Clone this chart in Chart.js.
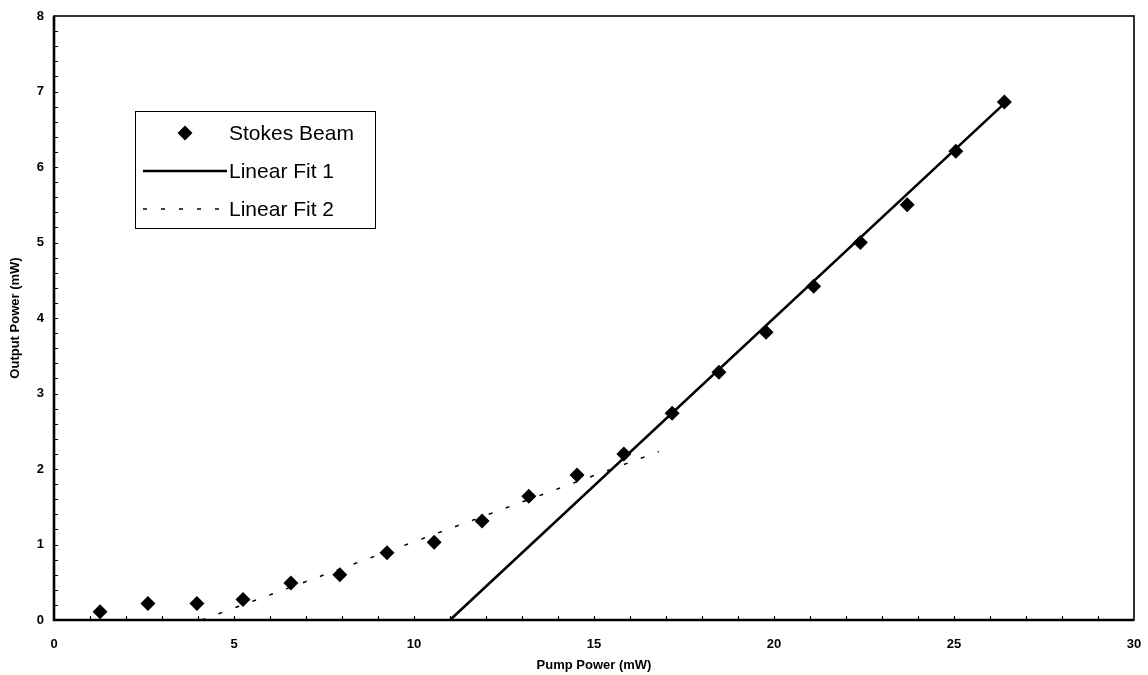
<!DOCTYPE html>
<html>
<head>
<meta charset="utf-8">
<script src="https://cdn.jsdelivr.net/npm/chart.js@4"></script>
<style>
  html, body { margin: 0; padding: 0; background: #fff; }
  #wrap { width: 1148px; height: 675px; }
</style>
</head>
<body>
<div id="wrap"><canvas id="chart" width="1148" height="675"></canvas></div>
<script>
// measured points, pump power (mW) vs stokes output (mW)
const pumpPower   = [1.28, 2.61, 3.97, 5.25, 6.58, 7.94, 9.25, 10.56, 11.89, 13.19, 14.53, 15.83, 17.17, 18.47, 19.78, 21.1, 22.4, 23.7, 25.05, 26.4];
const stokesPower = [0.11, 0.22, 0.22, 0.27, 0.49, 0.60, 0.89, 1.03, 1.31, 1.64, 1.92, 2.20, 2.74, 3.28, 3.81, 4.42, 5.00, 5.50, 6.21, 6.86];

// fit line end points
const fit1X = [11.0, 26.35];
const fit1Y = [0, 6.82];
const fit2X = [4.1, 16.8];
const fit2Y = [0, 2.23];

const seriesLabels = ['Stokes Beam', 'Linear Fit 1', 'Linear Fit 2'];

const toPoints = (xs, ys) => xs.map((x, i) => ({ x: x, y: ys[i] }));

// frame, inner minor ticks and the boxed legend
const framePlugin = {
  id: 'frame',
  afterDraw(chart) {
    const { ctx, chartArea: a, scales } = chart;
    const xs = scales.x, ys = scales.y;
    ctx.save();
    ctx.strokeStyle = '#000';

    ctx.lineWidth = 1.2;
    ctx.beginPath();
    for (let v = 1; v < 30; v++) {
      const px = Math.round(xs.getPixelForValue(v)) + 0.5;
      ctx.moveTo(px, a.bottom);
      ctx.lineTo(px, a.bottom - 4);
    }
    for (let k = 1; k < 40; k++) {
      const py = Math.round(ys.getPixelForValue(k * 0.2)) + 0.5;
      ctx.moveTo(a.left, py);
      ctx.lineTo(a.left + 4, py);
    }
    ctx.stroke();

    ctx.lineWidth = 1.6;
    ctx.strokeRect(a.left, a.top, a.right - a.left, a.bottom - a.top);
    ctx.lineWidth = 2.6;
    ctx.beginPath();
    ctx.moveTo(a.left, a.top);
    ctx.lineTo(a.left, a.bottom);
    ctx.lineTo(a.right, a.bottom);
    ctx.stroke();

    // legend box
    const bx = 135, by = 111, bw = 240, bh = 117;
    ctx.fillStyle = '#fff';
    ctx.fillRect(bx, by, bw, bh);
    ctx.lineWidth = 1;
    ctx.strokeRect(bx + 0.5, by + 0.5, bw, bh);

    const rowY = [133, 171, 209];
    ctx.font = '21px Arial, "Liberation Sans", sans-serif';
    ctx.textBaseline = 'middle';
    ctx.textAlign = 'left';
    chart.data.datasets.forEach((ds, i) => {
      const y = rowY[i];
      if (i === 0) {
        const r = ds.pointRadius;
        ctx.fillStyle = '#000';
        ctx.beginPath();
        ctx.moveTo(185, y - r);
        ctx.lineTo(185 + r, y);
        ctx.lineTo(185, y + r);
        ctx.lineTo(185 - r, y);
        ctx.closePath();
        ctx.fill();
      } else {
        ctx.lineWidth = ds.borderWidth;
        ctx.setLineDash(ds.borderDash || []);
        ctx.beginPath();
        ctx.moveTo(143, y);
        ctx.lineTo(227, y);
        ctx.stroke();
        ctx.setLineDash([]);
      }
      ctx.fillStyle = '#000';
      ctx.fillText(ds.label, 229, y + 1);
    });
    ctx.restore();
  }
};

const tickFont = { family: 'Arial, "Liberation Sans", sans-serif', size: 13, weight: 'bold' };

new Chart(document.getElementById('chart'), {
  type: 'scatter',
  data: {
    datasets: [
      {
        label: seriesLabels[0],
        data: toPoints(pumpPower, stokesPower),
        pointStyle: 'rectRot',
        pointRadius: 7.5,
        backgroundColor: '#000',
        borderColor: '#000',
        borderWidth: 0,
        showLine: false,
        order: 0
      },
      {
        label: seriesLabels[1],
        data: toPoints(fit1X, fit1Y),
        showLine: true,
        borderColor: '#000',
        borderWidth: 2.6,
        pointRadius: 0,
        order: 1
      },
      {
        label: seriesLabels[2],
        data: toPoints(fit2X, fit2Y),
        showLine: true,
        borderColor: '#000',
        borderWidth: 1.5,
        borderDash: [4, 14],
        pointRadius: 0,
        order: 2
      }
    ]
  },
  options: {
    responsive: false,
    animation: false,
    devicePixelRatio: 1,
    layout: { padding: { top: 16, right: 14, left: 0, bottom: 0 } },
    plugins: {
      legend: { display: false },
      tooltip: { enabled: false }
    },
    scales: {
      x: {
        type: 'linear',
        min: 0,
        max: 30,
        grid: { display: false, drawTicks: false },
        border: { display: false },
        ticks: { stepSize: 5, color: '#000', font: tickFont, padding: 17, maxRotation: 0 },
        title: { display: true, text: 'Pump Power (mW)', color: '#000', font: tickFont, padding: { top: 0, bottom: 2 } },
        afterFit(scale) {
          scale.height = 55;
          scale.paddingLeft = 0;
          scale.paddingRight = 0;
        }
      },
      y: {
        type: 'linear',
        min: 0,
        max: 8,
        grid: { display: false, drawTicks: false },
        border: { display: false },
        ticks: { stepSize: 1, color: '#000', font: tickFont, padding: 10 },
        title: { display: true, text: 'Output Power (mW)', color: '#000', font: tickFont, padding: { top: 8, bottom: 0 } },
        afterFit(scale) {
          scale.width = 54;
          scale.paddingTop = 0;
          scale.paddingBottom = 0;
        }
      }
    }
  },
  plugins: [framePlugin]
});
</script>
</body>
</html>
